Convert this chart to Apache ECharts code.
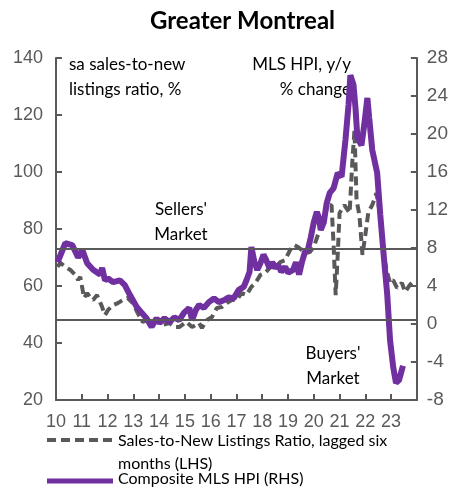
<!DOCTYPE html>
<html>
<head>
<meta charset="utf-8">
<script src="https://cdn.jsdelivr.net/npm/echarts@6/dist/echarts.min.js"></script>
<style>
  html, body { margin: 0; padding: 0; background: #fff; }
  #chart { width: 451px; height: 491px; }
</style>
</head>
<body>
<div id="chart"></div>
<script>
// x tick labels, one per year starting 2010
var years = ['10', '11', '12', '13', '14', '15', '16', '17', '18', '19', '20', '21', '22', '23'];

// sales-to-new listings ratio, lagged six months (LHS) — decimal year / %
var snlrDates = [2010.06, 2010.17, 2010.36, 2010.56, 2010.75, 2010.86, 2010.94, 2011.02, 2011.09, 2011.21,
  2011.32, 2011.44, 2011.59, 2011.71, 2011.79, 2011.90, 2012.02, 2012.21, 2012.40, 2012.59,
  2012.78, 2012.98, 2013.17, 2013.36, 2013.55, 2013.74, 2013.94, 2014.13, 2014.40, 2014.59,
  2014.78, 2015.05, 2015.28, 2015.55, 2015.66, 2015.86, 2016.05, 2016.24, 2016.43, 2016.62,
  2016.82, 2017.01, 2017.20, 2017.39, 2017.58, 2017.74, 2017.93, 2018.12, 2018.32, 2018.51,
  2018.70, 2018.89, 2019.08, 2019.24, 2019.39, 2019.54, 2019.70, 2019.85, 2020.00, 2020.16,
  2020.35, 2020.54, 2020.69, 2020.77, 2020.85, 2020.93, 2021.00, 2021.19, 2021.39, 2021.50,
  2021.58, 2021.66, 2021.77, 2021.89, 2022.00, 2022.12, 2022.27, 2022.43, 2022.58, 2022.73,
  2022.85, 2022.96, 2023.08, 2023.23, 2023.42, 2023.54, 2023.73, 2023.92];
var snlrValues = [66.7, 68.1, 66.7, 65.6, 63.9, 62.1, 63.2, 59.3, 55.8, 57.5,
  56.1, 55.1, 56.8, 54.4, 52.6, 49.8, 51.6, 53.3, 54.0, 55.1,
  55.8, 54.0, 50.5, 47.4, 48.1, 46.7, 48.1, 46.3, 47.0, 45.6,
  45.6, 47.4, 45.6, 47.0, 45.3, 48.1, 49.1, 52.3, 52.6, 54.0,
  55.1, 55.1, 57.5, 56.8, 59.7, 61.1, 63.9, 64.6, 66.7, 66.7,
  68.4, 69.1, 72.6, 74.4, 73.7, 72.6, 71.6, 71.9, 73.7, 77.9,
  82.5, 88.1, 88.4, 74.4, 56.8, 70.9, 85.6, 88.4, 85.6, 104.2,
  114.7, 90.2, 84.9, 70.9, 77.9, 86.0, 88.4, 92.6, 84.9, 69.8,
  64.6, 61.1, 62.1, 59.3, 61.1, 57.9, 60.4, 62.1];

// composite MLS HPI, y/y % change (RHS) — decimal year / %
var hpiDates = [2010.06, 2010.36, 2010.63, 2010.86, 2011.02, 2011.21, 2011.44, 2011.71, 2011.79, 2011.90,
  2012.02, 2012.21, 2012.48, 2012.67, 2012.86, 2013.13, 2013.32, 2013.51, 2013.71, 2013.90,
  2014.01, 2014.21, 2014.40, 2014.59, 2014.78, 2014.97, 2015.17, 2015.28, 2015.43, 2015.55,
  2015.74, 2015.93, 2016.13, 2016.32, 2016.51, 2016.70, 2016.89, 2017.09, 2017.28, 2017.39,
  2017.51, 2017.58, 2017.70, 2017.81, 2017.93, 2018.05, 2018.16, 2018.28, 2018.39, 2018.51,
  2018.62, 2018.74, 2018.89, 2019.01, 2019.20, 2019.31, 2019.43, 2019.54, 2019.66, 2019.77,
  2019.89, 2020.00, 2020.12, 2020.20, 2020.27, 2020.39, 2020.50, 2020.62, 2020.77, 2020.93,
  2021.08, 2021.23, 2021.35, 2021.42, 2021.54, 2021.62, 2021.69, 2021.85, 2021.96, 2022.08,
  2022.15, 2022.27, 2022.46, 2022.58, 2022.73, 2022.85, 2022.96, 2023.08, 2023.19, 2023.31,
  2023.42, 2023.46];
var hpiValues = [6.5, 8.5, 8.3, 7.0, 7.8, 6.4, 5.7, 5.2, 5.9, 4.6,
  4.8, 4.4, 4.6, 4.1, 3.1, 1.8, 1.2, 0.6, -0.3, 0.6,
  0.1, 0.6, 0.2, 0.7, 0.4, 1.2, 1.7, 0.4, 1.5, 2.0,
  1.7, 2.3, 2.7, 2.3, 2.5, 2.8, 2.7, 3.6, 3.9, 4.6,
  5.5, 8.1, 6.5, 5.7, 6.4, 7.3, 6.7, 5.9, 6.5, 5.9,
  6.2, 5.5, 6.0, 5.4, 5.7, 6.5, 5.2, 6.5, 7.6, 7.8,
  9.2, 10.7, 11.8, 11.2, 9.9, 10.7, 12.7, 13.8, 14.3, 15.9,
  15.5, 19.4, 23.1, 26.2, 25.2, 22.7, 19.7, 18.8, 21.0, 23.8,
  21.7, 18.3, 15.9, 11.5, 6.7, 3.1, -1.7, -4.5, -6.2, -5.9,
  -4.8, -4.4];

// sellers'/buyers' market thresholds (LHS)
var sellersLine = 73.2;
var buyersLine = 48.1;

function zip(xs, ys) {
  return xs.map(function (x, i) { return [x, ys[i]]; });
}

var chart = echarts.init(document.getElementById('chart'));
var grey = '#595959';
var purple = '#7030A0';

chart.setOption({
  animation: false,
  title: {
    text: 'Greater Montreal',
    left: 145,
    top: 4,
    textStyle: { fontFamily: 'Lato', fontWeight: 'bold', fontSize: 24, color: '#000' }
  },
  grid: { left: 56, right: 31, top: 58, bottom: 91 },
  xAxis: {
    type: 'value',
    min: 2010,
    max: 2024,
    interval: 1,
    splitLine: { show: false },
    axisLine: { onZero: false, lineStyle: { color: grey, width: 2 } },
    axisTick: { inside: true, length: 6, lineStyle: { color: grey, width: 2 } },
    axisLabel: {
      color: grey, fontFamily: 'Liberation Sans', fontSize: 18, margin: 13,
      formatter: function (v) { return years[v - 2010] || ''; }
    }
  },
  yAxis: [
    {
      type: 'value',
      min: 20,
      max: 140,
      interval: 20,
      splitLine: { show: false },
      axisLine: { show: true, lineStyle: { color: grey, width: 2 } },
      axisTick: { show: true, inside: true, length: 6, lineStyle: { color: grey, width: 2 } },
      axisLabel: { color: grey, fontFamily: 'Liberation Sans', fontSize: 18, margin: 13 }
    },
    {
      type: 'value',
      min: -8,
      max: 28,
      interval: 4,
      position: 'right',
      splitLine: { show: false },
      axisLine: { show: true, lineStyle: { color: grey, width: 2 } },
      axisTick: { show: true, inside: true, length: 6, lineStyle: { color: grey, width: 2 } },
      axisLabel: { color: grey, fontFamily: 'Liberation Sans', fontSize: 19, margin: 10 }
    }
  ],
  series: [
    {
      name: 'Sales-to-New Listings Ratio, lagged six months (LHS)',
      type: 'line',
      yAxisIndex: 0,
      data: zip(snlrDates, snlrValues),
      showSymbol: false,
      lineStyle: { color: grey, width: 4, type: [9, 5] },
      markLine: {
        silent: true,
        symbol: 'none',
        label: { show: false },
        lineStyle: { color: grey, width: 2, type: 'solid' },
        data: [{ yAxis: sellersLine }, { yAxis: buyersLine }]
      }
    },
    {
      name: 'Composite MLS HPI (RHS)',
      type: 'line',
      yAxisIndex: 1,
      data: zip(hpiDates, hpiValues),
      showSymbol: false,
      lineStyle: { color: purple, width: 6 },
      z: 3
    }
  ],
  graphic: [
    { type: 'text', x: 69, y: 52, style: { text: 'sa sales-to-new\nlistings ratio, %', font: '17px Lato', fill: '#000', lineHeight: 25 } },
    { type: 'text', x: 351, y: 52, style: { text: 'MLS HPI, y/y\n% change', font: '17px Lato', fill: '#000', lineHeight: 25, align: 'right' } },
    { type: 'text', x: 181, y: 197, style: { text: "Sellers'\nMarket", font: '17px Lato', fill: '#000', lineHeight: 25, align: 'center' } },
    { type: 'text', x: 333, y: 341, style: { text: "Buyers'\nMarket", font: '17px Lato', fill: '#000', lineHeight: 25, align: 'center' } },
    { type: 'line', shape: { x1: 47, y1: 440, x2: 112, y2: 440 }, style: { stroke: grey, lineWidth: 4, lineDash: [9, 5] } },
    { type: 'text', x: 118, y: 429, style: { text: 'Sales-to-New Listings Ratio, lagged six\nmonths (LHS)', font: '16px Lato', fill: '#000', lineHeight: 23 } },
    { type: 'line', shape: { x1: 47, y1: 481, x2: 113, y2: 481 }, style: { stroke: purple, lineWidth: 5 } },
    { type: 'text', x: 118, y: 471, style: { text: 'Composite MLS HPI (RHS)', font: '16px Lato', fill: '#000' } }
  ]
});
</script>
</body>
</html>
